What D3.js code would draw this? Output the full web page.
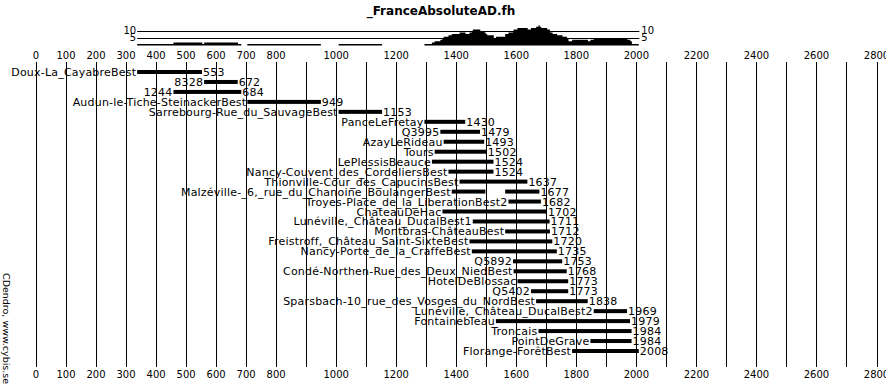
<!DOCTYPE html>
<html>
<head>
<meta charset="utf-8">
<script src="https://cdn.jsdelivr.net/npm/d3@7"></script>
<style>
  body { margin: 0; background: #fff; }
  svg text { font-family: "DejaVu Sans", Verdana, sans-serif; font-size: 10px; fill: #000; }
  svg text.lbl { font-size: 11px; letter-spacing: 0.2px; }
</style>
</head>
<body>
<div id="chart"></div>
<script>
// Series (one row per site)
const names = [
  "Doux-La_CayabreBest", "8328", "1244", "Audun-le-Tiche-SteinackerBest",
  "Sarrebourg-Rue_du_SauvageBest", "PanceLeFretay", "Q3995", "AzayLeRideau",
  "Tours", "LePlessisBeauce", "Nancy-Couvent_des_CordeliersBest",
  "Thionville-Cour_des_CapucinsBest", "Malzéville-_6,_rue_du_Chanoine_BoulangerBest",
  "Troyes-Place_de_la_LiberationBest2", "ChateauDeHac", "Lunéville,_Château_DucalBest1",
  "Montbras-ChâteauBest", "Freistroff,_Château_Saint-SixteBest", "Nancy-Porte_de_la_CraffeBest",
  "Q5892", "Condé-Northen-Rue_des_Deux_NiedBest", "HotelDeBlossac", "Q5402",
  "Sparsbach-10_rue_des_Vosges_du_NordBest", "Lunéville,_Château_DucalBest2",
  "Fontainebleau", "Troncais", "PointDeGrave", "Florange-ForêtBest"
];
const starts = [337, 560, 458, 704, 1008, 1294, 1347, 1358, 1328, 1319, 1374, 1411, 1385,
  1574, 1354, 1455, 1563, 1444, 1452, 1589, 1591, 1604, 1649, 1666, 1858, 1532, 1674, 1847, 1786];
const ends = [553, 672, 684, 949, 1153, 1430, 1479, 1493, 1502, 1524, 1524, 1637, 1677,
  1682, 1702, 1711, 1712, 1720, 1735, 1753, 1768, 1773, 1773, 1838, 1969, 1979, 1984, 1984, 2008];
// missing stretch inside one series
const gapRow = ["Malzéville-_6,_rue_du_Chanoine_BoulangerBest"];
const gapFrom = [1497];
const gapTo = [1563];

const axisTicks = d3.range(0, 2801, 100);
const axisLabels = [0, 100, 200, 300, 400, 500, 600, 700, 800, 1000, 1200, 1400, 1600, 1800, 2000, 2200, 2400, 2600, 2800];
const depthRefs = [5, 10];

const w = 886, h = 386;
const x = d3.scaleLinear().domain([0, 2800]).range([36, 876.5]);
const y = d3.scalePoint().domain(names).range([72, 351]);
const hy = d3.scaleLinear().domain([0, 10]).range([45.5, 31]);

const rows = names.map((n, i) => {
  let segs = [[starts[i], ends[i]]];
  const g = gapRow.indexOf(n);
  if (g >= 0) segs = [[starts[i], gapFrom[g]], [gapTo[g], ends[i]]];
  return { name: n, start: starts[i], end: ends[i], segs };
});

// sample depth per year, counted from the rows
const y0 = d3.min(starts), y1 = d3.max(ends);
const depth = d3.range(y0, y1 + 1).map(yr => ({
  year: yr,
  n: d3.sum(rows, r => r.segs.some(s => yr >= s[0] && yr <= s[1]) ? 1 : 0)
}));

const svg = d3.select("#chart").append("svg").attr("width", w).attr("height", h);

svg.append("text")
  .attr("x", 441).attr("y", 15)
  .attr("text-anchor", "middle")
  .style("font-weight", "bold").style("font-size", "12px")
  .text("_FranceAbsoluteAD.fh");

svg.append("text")
  .attr("transform", "translate(3,273) rotate(90)")
  .style("font-size", "9.5px")
  .text("CDendro, www.cybis.se");

// grid lines
svg.append("g").selectAll("line").data(axisTicks).enter().append("line")
  .attr("x1", d => Math.round(x(d)) + 0.5).attr("x2", d => Math.round(x(d)) + 0.5)
  .attr("y1", 62).attr("y2", 367)
  .attr("stroke", "#000");

// tick labels top and bottom
[59, 378].forEach(ty => {
  svg.append("g").selectAll("text").data(axisLabels).enter().append("text")
    .attr("x", d => x(d)).attr("y", ty)
    .attr("text-anchor", "middle")
    .text(d => d);
});

// depth histogram
const area = d3.area()
  .x(d => x(d.year)).y0(hy(0)).y1(d => hy(d.n))
  .defined(d => d.n > 0)
  .curve(d3.curveStepAfter);
svg.append("path").datum(depth).attr("d", area).attr("fill", "#000");

svg.append("g").selectAll("line").data(depthRefs).enter().append("line")
  .attr("x1", x(y0)).attr("x2", x(2000) + 3)
  .attr("y1", d => Math.round(hy(d)) + 0.5).attr("y2", d => Math.round(hy(d)) + 0.5)
  .attr("stroke", "#000");
svg.append("g").selectAll("text").data(depthRefs).enter().append("text")
  .attr("x", x(y0) - 1).attr("y", d => hy(d) + 3)
  .attr("text-anchor", "end").text(d => d);
svg.append("g").selectAll("text").data(depthRefs).enter().append("text")
  .attr("x", x(2000) + 5).attr("y", d => hy(d) + 3)
  .text(d => d);

// series bars
const row = svg.append("g").selectAll("g").data(rows).enter().append("g");
row.each(function (d) {
  const g = d3.select(this);
  d.segs.forEach(s => {
    g.append("rect")
      .attr("x", x(s[0])).attr("width", x(s[1]) - x(s[0]))
      .attr("y", y(d.name) - 2).attr("height", 4)
      .attr("fill", "#000");
  });
  g.append("text").attr("class", "lbl")
    .attr("x", x(d.start) - 1).attr("y", y(d.name) + 4)
    .attr("text-anchor", "end").text(d.name);
  g.append("text").attr("class", "lbl")
    .attr("x", x(d.end) + 1).attr("y", y(d.name) + 4)
    .text(d.end);
});
</script>
</body>
</html>
